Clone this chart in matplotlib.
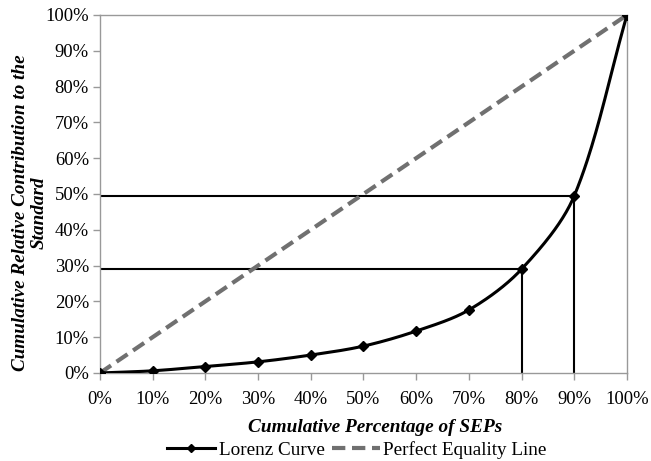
import numpy as np
import matplotlib
matplotlib.use("Agg")
import matplotlib.pyplot as plt
from matplotlib.ticker import FuncFormatter

# Data
x_pct = [0, 10, 20, 30, 40, 50, 60, 70, 80, 90, 100]
lorenz = [0, 0.6, 1.8, 3.1, 5.0, 7.5, 11.7, 17.6, 29.0, 49.5, 100]
equality = [0, 100]
equality_x = [0, 100]
ref_x = [80, 90]
ref_y = [29.0, 49.5]

plt.rcParams['font.family'] = ['Liberation Serif', 'DejaVu Serif']

def smooth_curve(xs, ys, sx=5.27, sy=3.58, tension=0.32, n=40):
    # Bezier smoothing done in display-like space (no overshoot)
    P = np.column_stack([np.asarray(xs, float) * sx, np.asarray(ys, float) * sy])
    m = len(P)
    dirs = np.zeros_like(P)
    for i in range(m):
        if i == 0:
            d = P[1] - P[0]
        elif i == m - 1:
            d = P[-1] - P[-2]
        else:
            a = P[i] - P[i - 1]
            b = P[i + 1] - P[i]
            la, lb = np.linalg.norm(a), np.linalg.norm(b)
            d = (a / la) * la + (b / lb) * lb
        dirs[i] = d / np.linalg.norm(d)
    t = np.linspace(0, 1, n)[:, None]
    pts = []
    for i in range(m - 1):
        p1, p2 = P[i], P[i + 1]
        L = np.linalg.norm(p2 - p1)
        c1 = p1 + dirs[i] * L * tension
        c2 = p2 - dirs[i + 1] * L * tension
        seg = (1 - t) ** 3 * p1 + 3 * (1 - t) ** 2 * t * c1 + 3 * (1 - t) * t ** 2 * c2 + t ** 3 * p2
        pts.append(seg)
    pts = np.vstack(pts)
    return pts[:, 0] / sx, pts[:, 1] / sy

fig = plt.figure(figsize=(6.51, 4.61), dpi=100)
ax = fig.add_axes([0.1536, 0.191, 0.8095, 0.7765])

# Reference lines
for rx, ry in zip(ref_x, ref_y):
    ax.plot([0, rx], [ry, ry], color='black', lw=1.5, zorder=2)
    ax.plot([rx, rx], [0, ry], color='black', lw=1.5, zorder=2)

# Equality line
eq_line, = ax.plot(equality_x, equality, color='#707070', lw=3, ls=(0, (3.2, 1.6)),
                   zorder=3)

# Lorenz curve
cx, cy = smooth_curve(x_pct, lorenz)
ax.plot(cx, cy, color='black', lw=2.2, zorder=4)
ax.plot(x_pct, lorenz, ls='none', marker='D', ms=5.5, color='black', zorder=5)
lorenz_handle, = ax.plot([], [], color='black', lw=2.2, marker='D', ms=4.5)

ax.set_xlim(0, 100)
ax.set_ylim(0, 100)
ax.set_xticks(range(0, 101, 10))
ax.set_yticks(range(0, 101, 10))
fmt = FuncFormatter(lambda v, p: f"{int(v)}%")
ax.xaxis.set_major_formatter(fmt)
ax.yaxis.set_major_formatter(fmt)
ax.tick_params(axis='both', direction='out', length=5, width=1, color='#999999',
               labelsize=13.4, pad=3)
ax.tick_params(axis='x', pad=8)
for s in ax.spines.values():
    s.set_color('#999999')
    s.set_linewidth(1)

fig.text(375 / 651, 1 - 427 / 461, 'Cumulative Percentage of SEPs', fontsize=13.9,
         fontweight='bold', fontstyle='italic', ha='center', va='center')
fig.text(30 / 651, 1 - 213 / 461, 'Cumulative Relative Contribution to the\nStandard',
         fontsize=13.8, fontweight='bold', fontstyle='italic', rotation=90,
         ha='center', va='center', multialignment='center', linespacing=1.12)

fig.legend([lorenz_handle, eq_line], ['Lorenz Curve', 'Perfect Equality Line'],
           loc='center', bbox_to_anchor=(357 / 651, 1 - 450 / 461), ncol=2,
           frameon=False, fontsize=13.8, handlelength=2.5, columnspacing=0.35,
           handletextpad=0.2, borderpad=0)

fig.savefig('out.png', dpi=100)
